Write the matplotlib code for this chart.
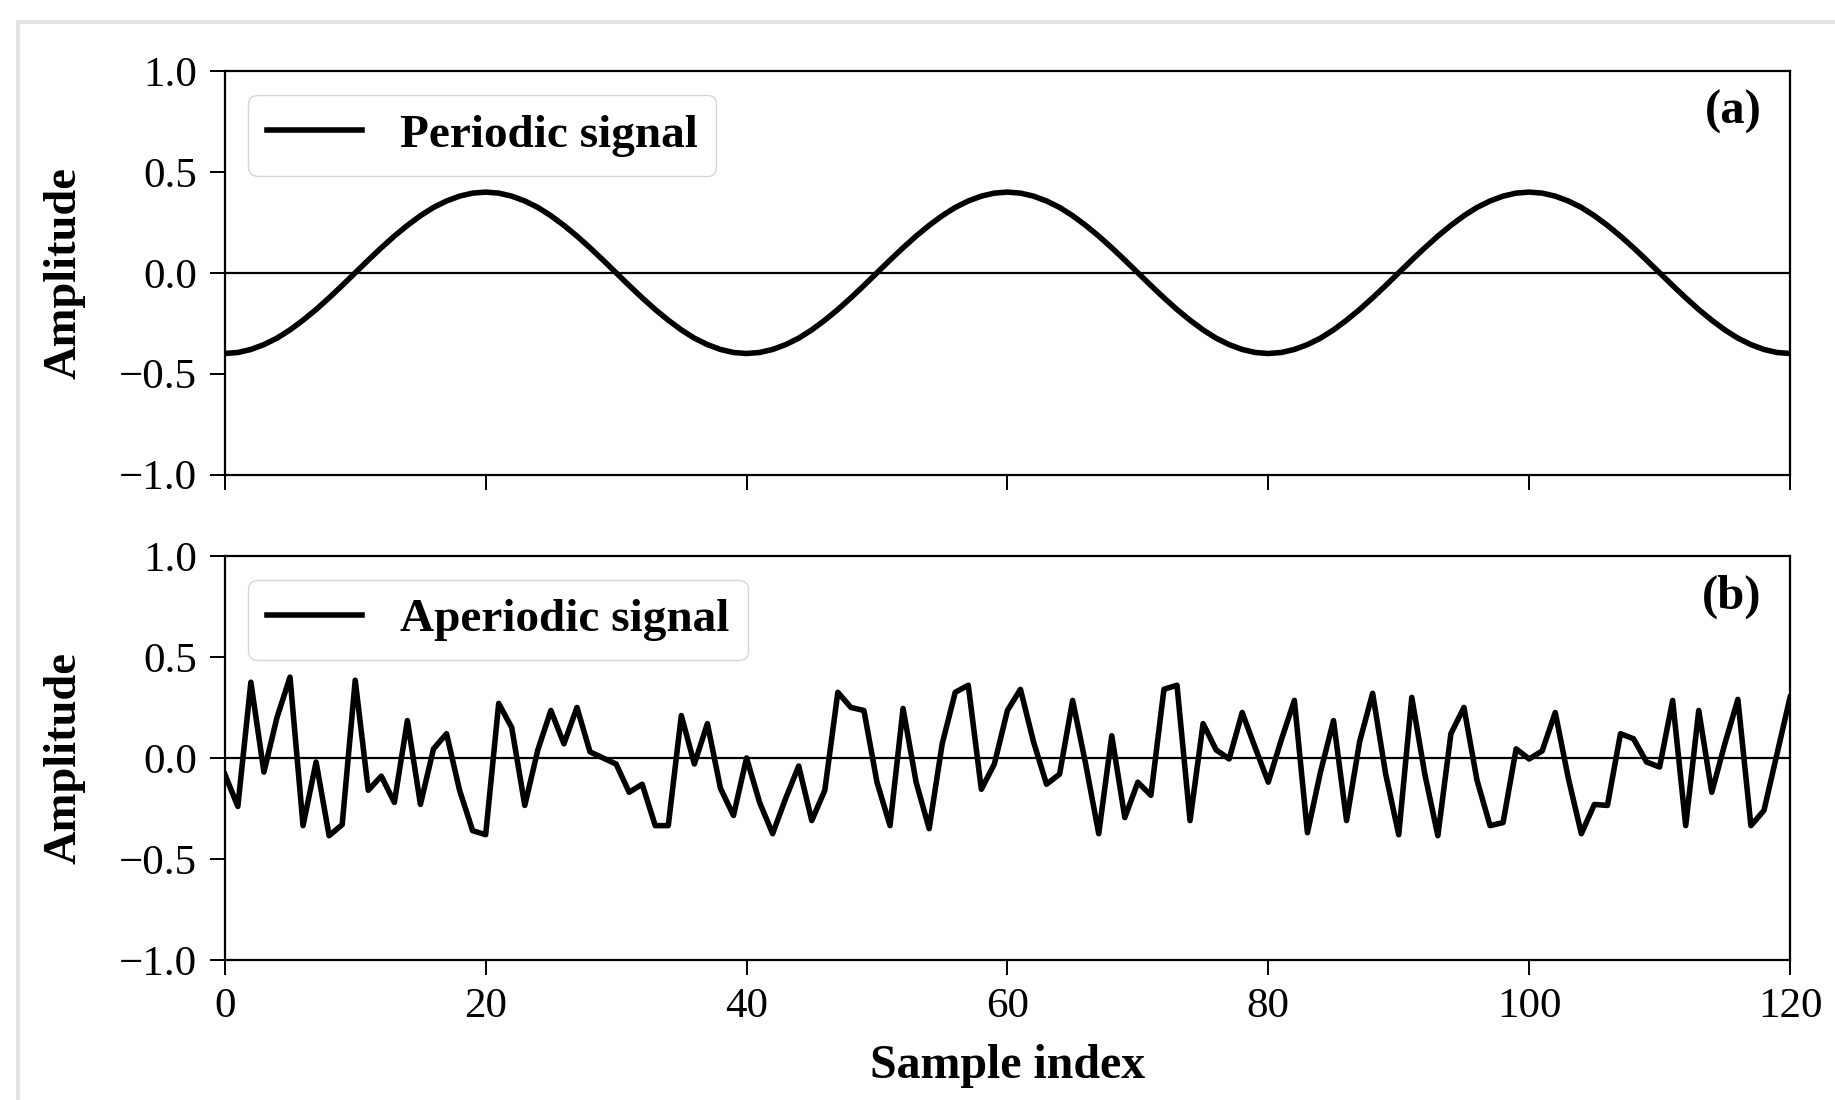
import numpy as np
import matplotlib.pyplot as plt
from matplotlib.lines import Line2D

plt.rcParams['font.family'] = 'serif'
plt.rcParams['font.serif'] = ['Liberation Serif', 'DejaVu Serif']

# sample positions
sample_idx = list(range(121))

# periodic signal
periodic = [
    -0.400, -0.395, -0.380, -0.356, -0.324, -0.283, -0.235, -0.182, -0.124, -0.063,
    0.000, 0.063, 0.124, 0.182, 0.235, 0.283, 0.324, 0.356, 0.380, 0.395,
    0.400, 0.395, 0.380, 0.356, 0.324, 0.283, 0.235, 0.182, 0.124, 0.063,
    0.000, -0.063, -0.124, -0.182, -0.235, -0.283, -0.324, -0.356, -0.380, -0.395,
    -0.400, -0.395, -0.380, -0.356, -0.324, -0.283, -0.235, -0.182, -0.124, -0.063,
    0.000, 0.063, 0.124, 0.182, 0.235, 0.283, 0.324, 0.356, 0.380, 0.395,
    0.400, 0.395, 0.380, 0.356, 0.324, 0.283, 0.235, 0.182, 0.124, 0.063,
    0.000, -0.063, -0.124, -0.182, -0.235, -0.283, -0.324, -0.356, -0.380, -0.395,
    -0.400, -0.395, -0.380, -0.356, -0.324, -0.283, -0.235, -0.182, -0.124, -0.063,
    0.000, 0.063, 0.124, 0.182, 0.235, 0.283, 0.324, 0.356, 0.380, 0.395,
    0.400, 0.395, 0.380, 0.356, 0.324, 0.283, 0.235, 0.182, 0.124, 0.063,
    0.000, -0.063, -0.124, -0.182, -0.235, -0.283, -0.324, -0.356, -0.380, -0.395,
    -0.400,
]

# aperiodic signal
aperiodic = [
    -0.08, -0.24, 0.375, -0.07, 0.20, 0.40, -0.335, -0.02, -0.385, -0.33,
    0.385, -0.16, -0.09, -0.22, 0.185, -0.23, 0.045, 0.12, -0.16, -0.36,
    -0.38, 0.27, 0.15, -0.235, 0.04, 0.235, 0.07, 0.25, 0.03, 0.0,
    -0.03, -0.17, -0.13, -0.335, -0.335, 0.21, -0.03, 0.17, -0.15, -0.285,
    0.0, -0.22, -0.375, -0.20, -0.04, -0.31, -0.16, 0.325, 0.25, 0.235,
    -0.12, -0.335, 0.245, -0.12, -0.35, 0.07, 0.325, 0.36, -0.155, -0.03,
    0.235, 0.34, 0.08, -0.13, -0.08, 0.285, -0.03, -0.375, 0.11, -0.295,
    -0.12, -0.185, 0.34, 0.36, -0.31, 0.17, 0.04, -0.005, 0.225, 0.05,
    -0.12, 0.09, 0.285, -0.37, -0.07, 0.185, -0.31, 0.08, 0.32, -0.08,
    -0.38, 0.30, -0.08, -0.385, 0.12, 0.25, -0.11, -0.335, -0.32, 0.045,
    -0.005, 0.035, 0.225, -0.10, -0.375, -0.23, -0.235, 0.12, 0.095, -0.02,
    -0.045, 0.285, -0.335, 0.235, -0.17, 0.07, 0.29, -0.335, -0.26, 0.02,
    0.30,
]

labels = ['Periodic signal', 'Aperiodic signal']
tags = ['(a)', '(b)']
xticks = [0, 20, 40, 60, 80, 100, 120]
yticks = [-1.0, -0.5, 0.0, 0.5, 1.0]

fig = plt.figure(figsize=(18.35, 11), dpi=100)
ax1 = fig.add_axes([0.1225, 0.5686, 0.853, 0.3668])
ax2 = fig.add_axes([0.1225, 0.1273, 0.853, 0.3673], sharex=ax1)

for ax, y, lab, tag in zip([ax1, ax2], [periodic, aperiodic], labels, tags):
    ax.plot(sample_idx, y, color='k', lw=4.0, label=lab)
    ax.axhline(0, color='k', lw=1.6)
    ax.set_xlim(0, 120)
    ax.set_ylim(-1, 1)
    ax.set_xticks(xticks)
    ax.set_yticks(yticks)
    ax.tick_params(labelsize=31, length=11, width=1.4, pad=9)
    for s in ax.spines.values():
        s.set_linewidth(1.6)
    ax.set_ylabel('Amplitude', fontsize=33.5, fontweight='bold')
    ax.yaxis.set_label_coords(-0.089, 0.5)
    ax.legend(loc='upper left', prop={'size': 34, 'weight': 'bold'})
    ax.text(0.982, 0.9, tag, transform=ax.transAxes, ha='right', va='center',
            fontsize=35, fontweight='bold')

ax1.tick_params(labelbottom=False)
ax2.set_xlabel('Sample index', fontsize=34.5, fontweight='bold', labelpad=13)

# light grey screenshot frame
fig.add_artist(Line2D([18 / 1835, 1], [1 - 22 / 1100] * 2, color='#e4e4e4', lw=3,
                      transform=fig.transFigure))
fig.add_artist(Line2D([18 / 1835] * 2, [0, 1 - 22 / 1100], color='#e4e4e4', lw=3,
                      transform=fig.transFigure))

fig.savefig('out.png', dpi=100)
